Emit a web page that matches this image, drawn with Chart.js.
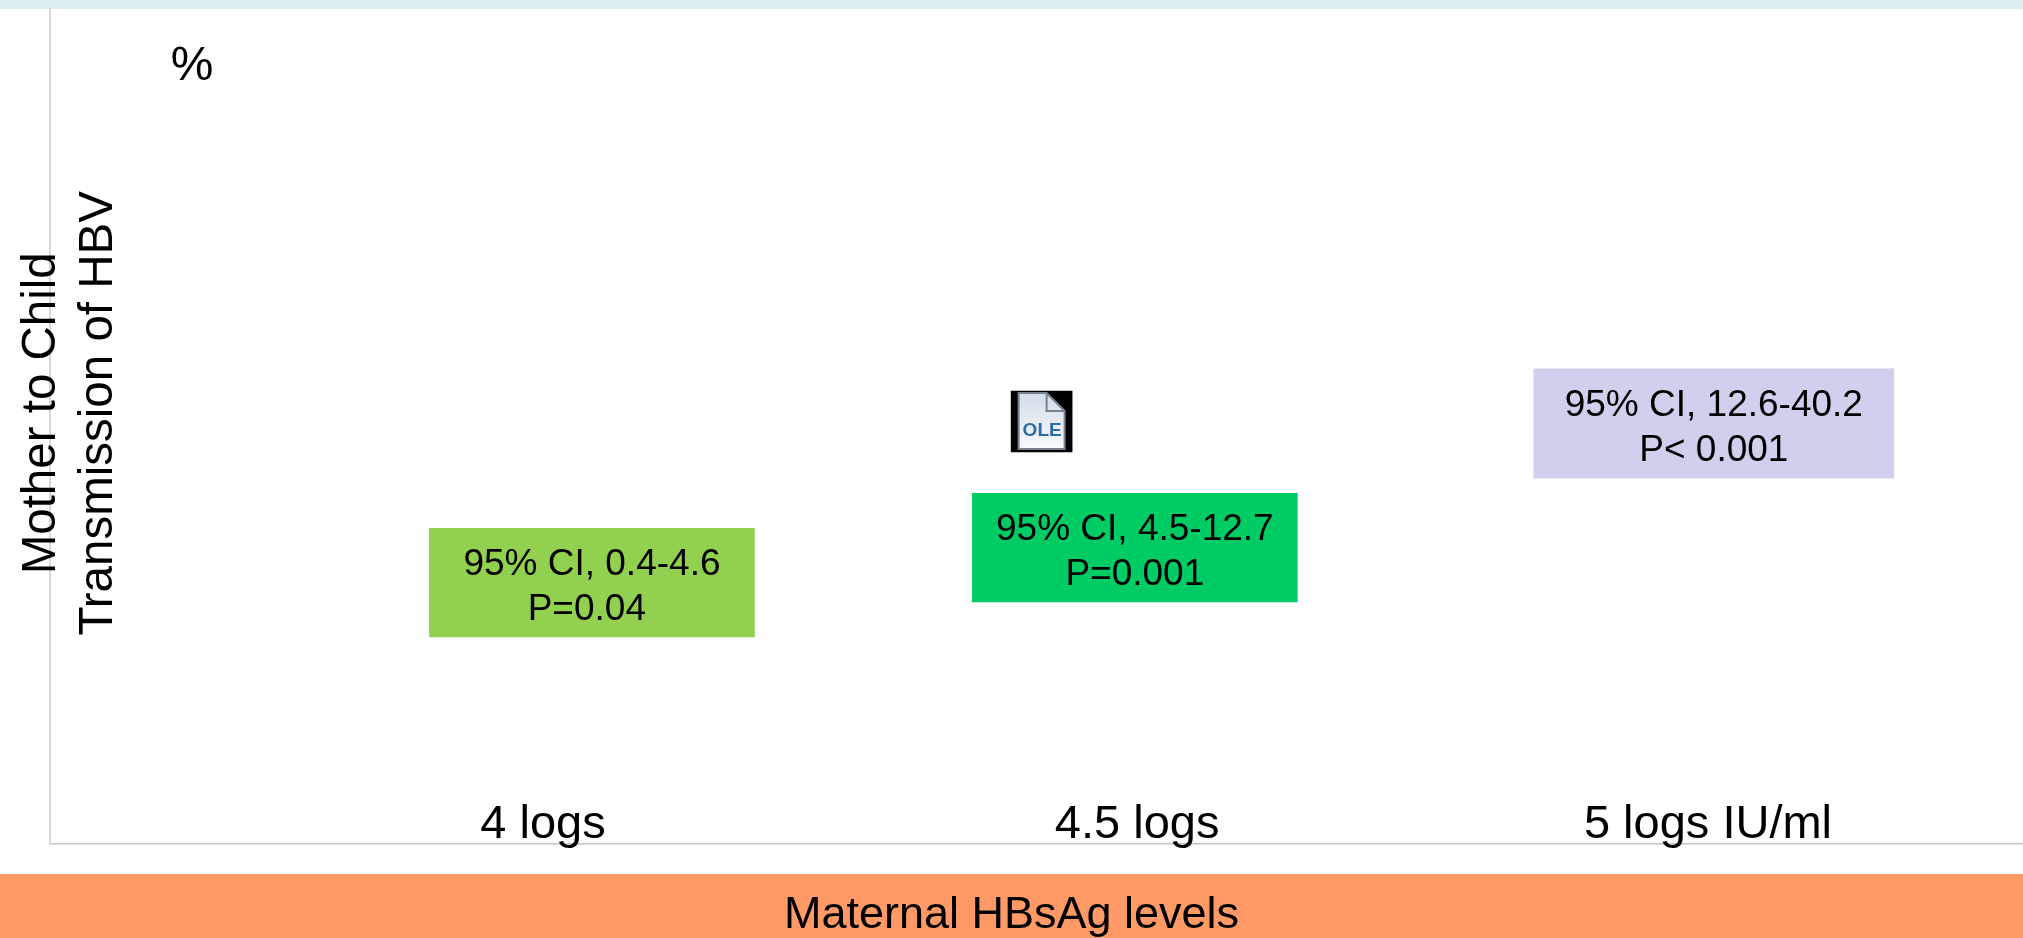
<!DOCTYPE html>
<html>
<head>
<meta charset="utf-8">
<title>Mother to Child Transmission of HBV</title>
<script src="https://cdn.jsdelivr.net/npm/chart.js@4"></script>
<style>
  html, body { margin: 0; padding: 0; background: #fff; overflow: hidden; }
  #wrap { position: relative; width: 2023px; height: 938px; }
  #topBand { position: absolute; left: 0; top: 0; width: 100%; height: 9px; background: #DAEDF1; }
  #bottomBand { position: absolute; left: 0; top: 874px; width: 100%; height: 64px; background: #FF9966; }
  canvas { position: absolute; left: 0; top: 0; }
</style>
</head>
<body>
<div id="wrap">
  <div id="topBand"></div>
  <div id="bottomBand"></div>
  <canvas id="hbvChart" width="2023" height="938"></canvas>
</div>
<script>
// x axis: maternal HBsAg level in logs
const tickLevels = [4, 4.51, 5];
const tickLabels = ['4 logs', '4.5 logs', '5 logs IU/ml'];

// annotation boxes
const boxLevels = [4.042, 4.508, 5.005];
const boxLow = [24.8, 29.0, 43.8];
const boxHigh = [37.8, 42.0, 56.9];
const ciLabels = ['95% CI, 0.4-4.6', '95% CI, 4.5-12.7', '95% CI, 12.6-40.2'];
const pLabels = ['P=0.04 ', 'P=0.001', 'P< 0.001'];

// embedded object icon
const iconLevel = [4.428];
const iconLow = [46.95];
const iconHigh = [54.25];

const boxColors = ['#92D050', '#00CC66', '#D0D0EE'];
const boxWidths = [325, 325, 360];

const FONT = '"Liberation Sans", Arial, sans-serif';

var datasets = boxLevels.map(function (level, i) {
  return {
    data: [{ x: level, y: [boxLow[i], boxHigh[i]] }],
    backgroundColor: boxColors[i],
    barThickness: boxWidths[i],
    stack: 'boxes'
  };
});
datasets.push({
  data: [{ x: iconLevel[0], y: [iconLow[0], iconHigh[0]] }],
  backgroundColor: '#000',
  barThickness: 61,
  stack: 'boxes'
});

// text inside the boxes, the OLE icon and the % unit
const boxText = {
  id: 'boxText',
  afterDatasetsDraw(chart) {
    var ctx = chart.ctx;
    ctx.save();
    ctx.fillStyle = '#000';
    ctx.textAlign = 'center';
    ctx.textBaseline = 'alphabetic';
    ctx.font = '37px ' + FONT;
    boxLevels.forEach(function (level, i) {
      var bar = chart.getDatasetMeta(i).data[0].getCenterPoint();
      ctx.fillText(ciLabels[i], bar.x, bar.y - 7.5);
      ctx.fillText(pLabels[i], bar.x, bar.y + 37.5);
    });

    ctx.font = '48px ' + FONT;
    ctx.fillText('%', chart.chartArea.left + 142, chart.chartArea.top + 71);

    // document glyph on the black square
    var c = chart.getDatasetMeta(3).data[0].getCenterPoint();
    var l = c.x - 23, t = c.y - 28.5, w = 46, h = 56, fold = 18;
    var grad = ctx.createLinearGradient(0, t, 0, t + h);
    grad.addColorStop(0, '#D5DDE7');
    grad.addColorStop(1, '#F6F9FC');
    ctx.beginPath();
    ctx.moveTo(l, t);
    ctx.lineTo(l + w - fold, t);
    ctx.lineTo(l + w, t + fold);
    ctx.lineTo(l + w, t + h);
    ctx.lineTo(l, t + h);
    ctx.closePath();
    ctx.fillStyle = grad;
    ctx.fill();
    ctx.lineWidth = 2;
    ctx.strokeStyle = '#78828E';
    ctx.stroke();
    ctx.beginPath();
    ctx.moveTo(l + w - fold, t);
    ctx.lineTo(l + w - fold, t + fold);
    ctx.lineTo(l + w, t + fold);
    ctx.stroke();
    ctx.fillStyle = '#2A6DA8';
    ctx.font = 'bold 19px ' + FONT;
    ctx.fillText('OLE', c.x + 0.5, c.y + 15);
    ctx.restore();
  }
};

var myChart = new Chart(document.getElementById('hbvChart').getContext('2d'), {
  type: 'bar',
  data: { datasets: datasets },
  plugins: [boxText],
  options: {
    responsive: false,
    animation: false,
    layout: { padding: { top: 9, right: 0, left: 0, bottom: 0 } },
    plugins: {
      legend: { display: false },
      tooltip: { enabled: false },
      title: {
        display: true,
        position: 'bottom',
        text: 'Maternal HBsAg levels',
        color: '#000',
        font: { family: FONT, size: 45, weight: 'normal', lineHeight: 1.2 },
        padding: { top: 15, bottom: -5 }
      }
    },
    scales: {
      x: {
        type: 'linear',
        stacked: true,
        offset: false,
        min: 3.5768,
        max: 5.2704,
        afterBuildTicks: function (scale) {
          scale.ticks = tickLevels.map(function (v) { return { value: v }; });
        },
        afterFit: function (scale) { scale.height = 30; },
        grid: { display: false, tickLength: 0 },
        border: { color: '#C4C4C4', width: 1.5, z: -1 },
        ticks: {
          autoSkip: false,
          maxRotation: 0,
          mirror: true, // keeps the labels from being clipped to the axis box
          padding: -9,
          color: '#000',
          font: { family: FONT, size: 47 },
          callback: function (value, index) { return tickLabels[index]; }
        }
      },
      y: {
        min: 0,
        max: 100,
        stacked: false,
        afterFit: function (scale) { scale.width = 0; },
        grid: { display: false, drawTicks: false },
        border: { color: '#D9D9D9', width: 2, z: -1 },
        ticks: { display: false }
      },
      // separate axis for the title: its grid layer is drawn above the y border
      yTitle: {
        axis: 'y',
        position: 'left',
        weight: 1,
        afterFit: function (scale) { scale.width = 50; },
        grid: { display: false, drawTicks: false, z: 1 },
        border: { display: false },
        ticks: { display: false },
        title: {
          display: true,
          text: ['  Mother to Child', '  Transmission of HBV'],
          color: '#000',
          font: { family: FONT, size: 47.5, lineHeight: 1.2 },
          padding: { top: 13, bottom: 0 }
        }
      }
    }
  }
});
</script>
</body>
</html>
